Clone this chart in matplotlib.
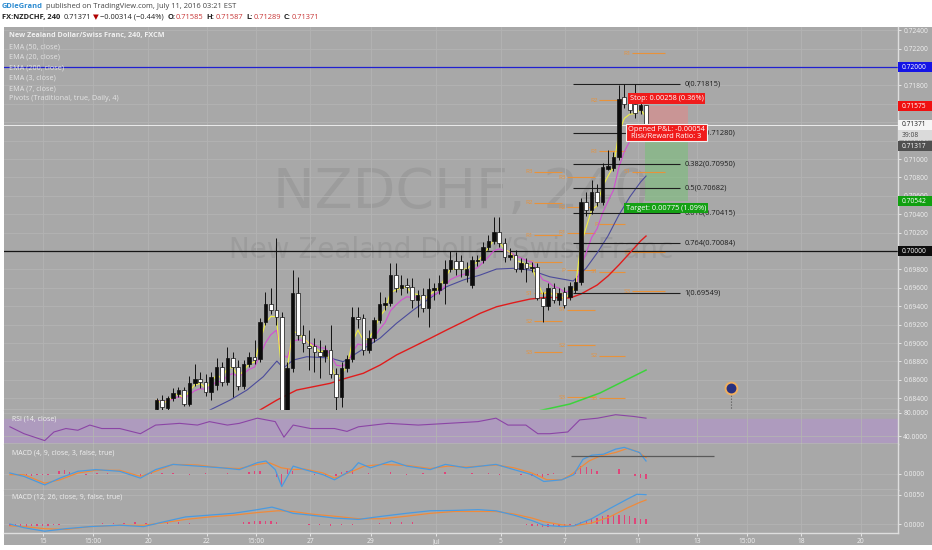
import numpy as np
import pandas as pd
import matplotlib
matplotlib.use("Agg")
import matplotlib.pyplot as plt
from matplotlib import transforms
from matplotlib.patches import Rectangle

W, H = 932, 550
BG = '#a8a8a8'
GRID = '#b3b3b3'
SEP = '#dedede'
LABEL = '#f0f0f0'
plt.rcParams['font.family'] = ['Open Sans', 'DejaVu Sans']

# ---------------- data ----------------
# 4h candles, bar index 27..117 (older bars lie below the visible range)
first_bar = 27
opens = [0.68283, 0.68380, 0.68299, 0.68402, 0.68446, 0.68489, 0.68337, 0.68565, 0.68609, 0.68576,
         0.68467, 0.68543, 0.68739, 0.68576, 0.68837, 0.68739, 0.68532, 0.68772, 0.68848, 0.68826,
         0.69228, 0.69424, 0.69359, 0.69283, 0.68109, 0.68728, 0.69543, 0.69087, 0.68967, 0.68967,
         0.68902, 0.68859, 0.68924, 0.68663, 0.68413, 0.68728, 0.68826, 0.69283, 0.69272, 0.68924,
         0.69054, 0.69250, 0.69418, 0.69435, 0.69739, 0.69598, 0.69630, 0.69609, 0.69467, 0.69522,
         0.69380, 0.69576, 0.69576, 0.69652, 0.69804, 0.69891, 0.69891, 0.69739, 0.69630, 0.69891,
         0.69902, 0.70043, 0.70109, 0.70207, 0.70087, 0.69935, 0.69956, 0.69804, 0.69869, 0.69815,
         0.69826, 0.69489, 0.69402, 0.69598, 0.69467, 0.69554, 0.69500, 0.69576, 0.69663, 0.70533,
         0.70446, 0.70641, 0.70533, 0.70891, 0.70902, 0.71022, 0.71674, 0.71641, 0.71598, 0.71533,
         0.71585]
highs = [0.68402, 0.68435, 0.68424, 0.68511, 0.68522, 0.68522, 0.68641, 0.68772, 0.68685, 0.68663,
         0.68685, 0.68837, 0.68793, 0.68956, 0.68902, 0.68815, 0.68815, 0.68902, 0.69033, 0.69272,
         0.69554, 0.69598, 0.70141, 0.69337, 0.68793, 0.69793, 0.69717, 0.69196, 0.69141, 0.69054,
         0.69033, 0.68978, 0.69196, 0.68728, 0.68793, 0.68869, 0.69391, 0.69391, 0.69315, 0.69141,
         0.69283, 0.69554, 0.69500, 0.69869, 0.69869, 0.69739, 0.69706, 0.69706, 0.69576, 0.69598,
         0.69706, 0.69652, 0.69739, 0.69902, 0.70000, 0.69989, 0.69956, 0.69880, 0.69946, 0.69956,
         0.70098, 0.70174, 0.70370, 0.70370, 0.70141, 0.70033, 0.70011, 0.69924, 0.69924, 0.69880,
         0.69869, 0.69554, 0.69652, 0.69652, 0.69598, 0.69609, 0.69663, 0.69706, 0.70576, 0.70641,
         0.70772, 0.70728, 0.70957, 0.71098, 0.71076, 0.71804, 0.71815, 0.71696, 0.71815, 0.71641,
         0.71587]
lows = [0.68261, 0.68272, 0.68272, 0.68369, 0.68413, 0.68315, 0.68315, 0.68532, 0.68511, 0.68424,
        0.68380, 0.68489, 0.68532, 0.68543, 0.68413, 0.68489, 0.68500, 0.68739, 0.68772, 0.68793,
        0.69196, 0.69315, 0.69196, 0.67946, 0.67946, 0.68685, 0.69033, 0.68902, 0.68706, 0.68685,
        0.68619, 0.68793, 0.68619, 0.68272, 0.68304, 0.68685, 0.68793, 0.69163, 0.68869, 0.68891,
        0.69011, 0.69217, 0.69359, 0.69402, 0.69554, 0.69522, 0.69543, 0.69380, 0.69283, 0.69337,
        0.69174, 0.69467, 0.69533, 0.69424, 0.69772, 0.69739, 0.69717, 0.69663, 0.69598, 0.69837,
        0.69869, 0.70011, 0.70076, 0.70043, 0.69880, 0.69902, 0.69772, 0.69772, 0.69663, 0.69772,
        0.69467, 0.69228, 0.69359, 0.69435, 0.69413, 0.69380, 0.69467, 0.69543, 0.69630, 0.70380,
        0.70402, 0.70489, 0.70500, 0.70880, 0.70870, 0.70989, 0.71554, 0.71500, 0.71446, 0.71489,
        0.71289]
closes = [0.68380, 0.68304, 0.68402, 0.68456, 0.68489, 0.68337, 0.68565, 0.68609, 0.68576, 0.68467,
          0.68630, 0.68739, 0.68576, 0.68837, 0.68739, 0.68532, 0.68772, 0.68848, 0.68815, 0.69228,
          0.69424, 0.69359, 0.69283, 0.68109, 0.68728, 0.69543, 0.69087, 0.69000, 0.68946, 0.68902,
          0.68859, 0.68924, 0.68663, 0.68413, 0.68728, 0.68826, 0.69283, 0.69266, 0.68924, 0.69054,
          0.69250, 0.69424, 0.69440, 0.69739, 0.69598, 0.69630, 0.69609, 0.69467, 0.69522, 0.69380,
          0.69587, 0.69598, 0.69652, 0.69804, 0.69902, 0.69804, 0.69804, 0.69804, 0.69902, 0.69902,
          0.70043, 0.70109, 0.70207, 0.70087, 0.69935, 0.69956, 0.69804, 0.69869, 0.69815, 0.69826,
          0.69489, 0.69402, 0.69598, 0.69467, 0.69543, 0.69413, 0.69620, 0.69663, 0.70533, 0.70446,
          0.70641, 0.70533, 0.70913, 0.70924, 0.71022, 0.71652, 0.71598, 0.71533, 0.71500, 0.71587,
          0.71371]

# slower EMAs (bar index, price)
ema20_x = [33.0, 36.8, 40.5, 43.6, 46.6, 49.1, 50.3, 52.1, 54.6, 58.9, 61.3, 63.8, 68.1, 71.1, 74.2, 77.3,
           80.3, 83.4, 86.5, 89.5, 92.6, 95.7, 99.3, 103.6, 106, 108, 110, 112, 114, 116, 117]
ema20_y = [0.68150, 0.68272, 0.68380, 0.68489, 0.68634, 0.68804, 0.68728, 0.68815, 0.68851, 0.68837, 0.68797,
           0.68891, 0.69054, 0.69214, 0.69359, 0.69489, 0.69612, 0.69685, 0.69739, 0.69804, 0.69812, 0.69793,
           0.69720, 0.69674, 0.69815, 0.69978, 0.70163, 0.70391, 0.70587, 0.70750, 0.70815]
ema50_x = [43.0, 46, 49.1, 52.75, 55.8, 58.9, 61.3, 65, 68.1, 71.1, 74.2, 77.3, 80.3, 83.4, 86.5, 89.5,
           92.6, 95.7, 98.7, 103, 105, 108, 110, 112, 114, 116, 117]
ema50_y = [0.68150, 0.68272, 0.68380, 0.68489, 0.68525, 0.68562, 0.68609, 0.68671, 0.68761, 0.68870, 0.68960,
           0.69051, 0.69141, 0.69231, 0.69323, 0.69394, 0.69438, 0.69478, 0.69497, 0.69489, 0.69532, 0.69630,
           0.69728, 0.69848, 0.69978, 0.70109, 0.70163]
ema200_x = [95.0, 97.1, 103, 108.5, 112.2, 117]
ema200_y = [0.68200, 0.68261, 0.68337, 0.68456, 0.68565, 0.68706]

# daily pivots (R3, R2, R1, P, S1, S2, S3) for the last four sessions
pivot_names = ['R3', 'R2', 'R1', 'P', 'S1', 'S2', 'S3']
pivot_start = [96, 102, 108, 114]
pivot_len = [5.2, 5.2, 4.8, 6.1]
piv_jul6 = [0.70859, 0.70522, 0.70174, 0.69880, 0.69543, 0.69239, 0.68902]
piv_jul7 = [0.70804, 0.70478, 0.70196, 0.69793, 0.69359, 0.68978, 0.68413]
piv_jul8 = [0.72700, 0.71641, 0.71087, 0.70293, 0.69772, 0.68859, 0.68402]
piv_jul11 = [0.73400, 0.72700, 0.72152, 0.71304, 0.70859, 0.69989, 0.69565]

# fibonacci retracement
fib_levels = [0, 0.236, 0.382, 0.5, 0.618, 0.764, 1]
fib_prices = [0.71815, 0.71280, 0.70950, 0.70682, 0.70415, 0.70084, 0.69549]
fib_span = [103.6, 123.2]

# short position tool
entry_price, stop_price, target_price = 0.71317, 0.71575, 0.70542
pos_span = [116.8, 124.7]

# RSI (14)
rsi_x = [0, 2.6, 6.4, 8.1, 10.3, 12.5, 14.7, 16.9, 20.2, 24, 26.8, 31.2, 34.5, 36.7, 40, 42.2, 45.5, 48.8,
         50.4, 52.1, 55.3, 59.7, 62, 64.1, 69.6, 75.1, 80.6, 86.1, 89.4, 91.6, 94.9, 97.1, 99.3, 102.6,
         104.8, 108.1, 111.4, 114.7, 117]
rsi_v = [56, 44, 32, 47, 53, 50, 59, 53, 53, 44, 59, 62, 59, 65, 59, 62, 71, 65, 38, 59, 53, 53, 48, 56,
         62, 59, 62, 65, 71, 59, 59, 44, 44, 47, 68, 71, 77, 74, 71]

# MACD (4, 9, 3)
m1_x = [0, 2.6, 6.4, 9.2, 12.5, 15.8, 20.2, 24, 26.8, 30, 34.5, 38.9, 42.2, 45.5, 47.1, 48.8, 50, 52.1,
        54.2, 57.6, 59.7, 63, 64.1, 66.3, 70.2, 73, 77.3, 80.1, 83.9, 89.4, 92.7, 96, 98.2, 101.5, 103.7,
        105.4, 107, 109.2, 111.4, 113, 115.8, 117]
m1_v = [0.0001, -0.00024, -0.00109, -0.00041, 0.00027, 0.00044, 0.00027, -0.00041, 0.00044, 0.00096,
        0.00079, 0.00062, 0.00044, 0.00113, 0.0013, 0.00044, -0.00126, 0.00079, 0.00044, -0.00007,
        -0.00058, 0.00044, 0.00113, 0.00062, 0.0013, 0.00079, 0.00044, 0.00096, 0.00062, 0.00096,
        0.00044, -0.00007, -0.00075, -0.00058, -0.00007, 0.00147, 0.00188, 0.00198, 0.00249, 0.00266,
        0.00215, 0.0013]
s1_x = [0, 2.6, 6.4, 9.2, 12.5, 15.8, 20.2, 24, 26.8, 30, 34.5, 38.9, 42.2, 45.5, 47.7, 49.9, 52.1, 54.2,
        57.6, 59.7, 63, 65.2, 68.5, 73, 77.3, 80.6, 83.9, 89.4, 92.7, 96, 98.8, 101.5, 103.2, 106.5,
        108.6, 111.4, 113.6, 115.5, 117]
s1_v = [-0.00007, -0.00007, -0.00092, -0.00058, 0.0001, 0.00037, 0.00037, -0.00024, 0.00027, 0.00096,
        0.0009, 0.00062, 0.00055, 0.00096, 0.00113, 0.00062, 0.00044, 0.0005, 0.0001, -0.00041, 0.00027,
        0.00079, 0.00096, 0.00086, 0.00055, 0.00079, 0.00069, 0.0009, 0.00062, 0.0001, -0.00058,
        -0.00058, -0.00007, 0.0013, 0.00181, 0.00215, 0.00256, 0.00222, 0.00164]
hist1_x = [1, 2, 3, 4, 5, 6, 7, 9, 10, 11, 14, 16, 18, 22, 24, 26, 28, 30, 33, 36, 40, 44, 45, 46, 49, 50,
           51, 52, 56, 58, 60, 61, 62, 63, 66, 70, 73, 76, 80, 85, 88, 90, 94, 96, 97, 98, 99, 100, 104,
           105, 106, 107, 108, 112, 115, 116, 117]
hist1_v = [-0.0001, -0.0002, -0.0001, -0.0002, -0.0001, -0.0001, -0.0001, 0.0003, 0.0004, 0.0002,
           -0.0001, 0.0001, 0.0001, -0.0001, -0.0002, 0.0002, 0.0001, 0.0001, -0.0001, 0.0001, 0.0001,
           0.0002, 0.0003, 0.0003, -0.0003, -0.0012, 0.0005, 0.0003, -0.0001, -0.0002, -0.0002, 0.0002,
           0.0003, 0.0004, 0.0001, 0.0002, -0.0001, 0.0001, 0.0002, 0.0001, 0.0001, -0.0001, -0.0001,
           -0.0002, -0.0002, -0.0003, -0.0001, 0.0001, 0.0002, 0.0008, 0.0007, 0.0005, 0.0003, 0.0005,
           -0.0002, -0.0004, -0.0005]
macd1_hline = [0.0018, 103.2, 129.5]

# MACD (12, 26, 9)
m2_x = [0, 2.6, 6.4, 10.3, 14.7, 20.2, 24.6, 27.9, 32.3, 36.7, 41.1, 45.5, 48.2, 49.9, 52.1, 55.3, 59.7,
        64.1, 68.5, 72.9, 77.3, 81.7, 86.1, 89.4, 92.7, 96, 98.2, 101.5, 103.7, 107, 110.3, 113.6, 115.3, 117]
m2_v = [0, -0.00064, -0.00124, -0.00081, -0.00045, -0.00021, -0.00045, 0.00029, 0.00122, 0.00153, 0.00184,
        0.00247, 0.00291, 0.00247, 0.00184, 0.00153, 0.00103, 0.00079, 0.00134, 0.00184, 0.00228, 0.00234,
        0.00247, 0.00228, 0.00153, 0.0006, -0.00021, -0.00045, -0.00031, 0.00091, 0.00265, 0.00431,
        0.00512, 0.00505]
s2_x = [0, 2.6, 6.4, 10.3, 14.7, 20.2, 24.6, 27.9, 32.3, 36.7, 41.1, 45.5, 49.3, 52.1, 55.3, 59.7, 64.1,
        68.5, 72.9, 77.3, 81.7, 86.1, 89.4, 92.7, 96, 98.2, 101.5, 103.7, 107, 110.3, 113.6, 115.8, 117]
s2_v = [-0.00031, -0.00045, -0.00081, -0.00093, -0.00045, -0.00021, -0.00021, 0.00017, 0.00079, 0.00122,
        0.00153, 0.00197, 0.00228, 0.00216, 0.00172, 0.00134, 0.00091, 0.00091, 0.00134, 0.00184, 0.00216,
        0.00216, 0.00216, 0.00172, 0.00103, 0.00041, -0.00014, -0.00031, 0.00017, 0.00122, 0.00278,
        0.00371, 0.00414]
hist2_x = [0, 1, 2, 3, 4, 5, 6, 7, 8, 9, 17, 19, 21, 23, 25, 27, 29, 31, 33, 43, 44, 45, 46, 47, 48, 49,
           55, 57, 59, 61, 63, 68, 70, 72, 74, 95, 96, 97, 98, 99, 100, 101, 102, 103, 104,
           105, 106, 107, 108, 109, 110, 111, 112, 113, 114, 115, 116, 117]
hist2_v = [-0.0003, -0.0004, -0.0004, -0.0005, -0.0004, -0.0004, -0.0003, -0.0003, -0.0002, -0.0002,
           0.0001, 0.0002, 0.0002, 0.0003, 0.0002, 0.0002, 0.0003, 0.0003, 0.0002,
           0.0003, 0.0004, 0.0005, 0.0006, 0.0006, 0.0005, 0.0004,
           -0.0002, -0.0002, -0.0003, -0.0002, -0.0001, 0.0002, 0.0003, 0.0004, 0.0003,
           -0.0002, -0.0003, -0.0004, -0.0005, -0.0005, -0.0004, -0.0004, -0.0003, -0.0002, -0.0001,
           0.0003, 0.0006, 0.0009, 0.0011, 0.0013, 0.0015, 0.0016, 0.0016, 0.0015, 0.0013, 0.0011, 0.0009, 0.0008]

# time axis
date_ticks = [6.1, 15.3, 25.4, 36.25, 45.3, 55.2, 66.4, 78.4, 90.3, 102.1, 115.5, 126.4, 135.6, 145.5, 156.5]
date_labels = ['15', '15:00', '20', '22', '15:00', '27', '29', 'Jul', '5', '7', '11', '13', '15:00', '18', '20']
event_bar, event_price = 132.6, 0.68511

# ---------------- layout helpers ----------------
BAR_PX = 5.437
def bar_at(px):
    return first_bar + (px - 156.7) / BAR_PX

x_lim = (bar_at(4), bar_at(898))
y_lim = (0.68272, 0.72435)
fig = plt.figure(figsize=(W / 100, H / 100), dpi=100, facecolor='white')
fig.add_artist(Rectangle((4 / W, 1 - 545 / H), 928 / W, 518 / H, transform=fig.transFigure,
                         fc=BG, ec='none', zorder=-1))


def panel(y0, y1):
    ax = fig.add_axes([4 / W, 1 - y1 / H, 894 / W, (y1 - y0) / H])
    ax.set_facecolor(BG)
    ax.set_xlim(*x_lim)
    for s in ['top', 'left']:
        ax.spines[s].set_visible(False)
    for s in ['right', 'bottom']:
        ax.spines[s].set_color(SEP)
        ax.spines[s].set_linewidth(1.0)
    ax.yaxis.tick_right()
    ax.tick_params(axis='y', colors=LABEL, labelsize=4.8, length=2.5, width=0.6, pad=1.2)
    ax.set_xticks(date_ticks)
    ax.tick_params(axis='x', length=0, labelbottom=False)
    ax.grid(True, color=GRID, lw=0.6)
    ax.set_axisbelow(True)
    return ax


def side_box(ax, y, text, fc, tc, h):
    tr = transforms.blended_transform_factory(ax.transAxes, ax.transData)
    ax.add_patch(Rectangle((1.0, y - h / 2), 34 / 894, h, transform=tr, fc=fc, ec='none',
                           clip_on=False, zorder=20))
    ax.text(1.0 + 4 / 894, y, text, transform=tr, color=tc, fontsize=4.8, va='center', ha='left',
            clip_on=False, zorder=21)


# ---------------- main price panel ----------------
ax = panel(27, 410)
ax.set_ylim(*y_lim)
pticks = np.arange(0.684, 0.7241, 0.002)
ax.set_yticks(pticks)
ax.set_yticklabels([f'{t:.5f}' for t in pticks])

ax.text(0.511, 0.567, 'NZDCHF, 240', transform=ax.transAxes, fontsize=40, color='#9c9c9c',
        ha='center', va='center', family='DejaVu Sans', zorder=0.5)
ax.text(0.50, 0.418, 'New Zealand Dollar/Swiss Franc', transform=ax.transAxes, fontsize=20,
        color='#9c9c9c', ha='center', va='center', family='DejaVu Sans', zorder=0.5)

legend_lines = ['EMA (50, close)', 'EMA (20, close)', 'EMA (200, close)', 'EMA (3, close)',
                'EMA (7, close)', 'Pivots (Traditional, true, Daily, 4)']
ax.text(5 / 894, (410 - 36) / 383, 'New Zealand Dollar/Swiss Franc, 240, FXCM', transform=ax.transAxes,
        fontsize=5.2, color=LABEL, fontweight='bold', va='center')
for k, s in enumerate(legend_lines):
    ax.text(5 / 894, (410 - 47 - k * 10.4) / 383, s, transform=ax.transAxes, fontsize=5.2,
            color='#e4e4e4', va='center')

# full-width horizontal levels
ax.axhline(0.72, color='#2020d0', lw=0.9, zorder=2)
ax.axhline(0.70, color='#151515', lw=0.9, zorder=2)
ax.axhline(closes[-1], color='#ececec', lw=0.7, zorder=1.6)

# pivots (only levels inside the price range get a label)
for d, ln, lv in zip(pivot_start, pivot_len, [piv_jul6, piv_jul7, piv_jul8, piv_jul11]):
    for name, p in zip(pivot_names, lv):
        if not (y_lim[0] + 0.0002 < p < y_lim[1] - 0.0002):
            continue
        ax.hlines(p, d + 0.4, d + 0.4 + ln, color='#e8923a', lw=0.8, zorder=1.8)
        ax.text(d + 0.2, p, name, color='#e8923a', fontsize=4.6, ha='right', va='center', zorder=1.8)

# position tool zones
ax.add_patch(Rectangle((pos_span[0], entry_price), pos_span[1] - pos_span[0], stop_price - entry_price,
                       fc='#dc8c8c', ec='none', alpha=0.65, zorder=1.5))
ax.add_patch(Rectangle((pos_span[0], target_price), pos_span[1] - pos_span[0], entry_price - target_price,
                       fc='#78c078', ec='none', alpha=0.55, zorder=1.5))

# EMAs
bars = np.arange(first_bar, first_bar + len(closes))
cs = pd.Series(closes)
ema3 = cs.ewm(span=3, adjust=False).mean()
ema7 = cs.ewm(span=7, adjust=False).mean()
ax.plot(ema200_x, ema200_y, color='#3cd23c', lw=1.1, zorder=2)
ax.plot(ema50_x, ema50_y, color='#e01c1c', lw=1.0, zorder=2)
ax.plot(ema20_x, ema20_y, color='#4b4b9b', lw=0.8, zorder=2)
ax.plot(bars, ema7, color='#d24fd2', lw=0.8, zorder=2)
ax.plot(bars, ema3, color='#f0f040', lw=0.8, zorder=2)

# candles (black body = up, white body = down)
o, h_, l_, c = map(np.array, (opens, highs, lows, closes))
up = c >= o
ax.vlines(bars, l_, h_, color='#111111', lw=0.7, zorder=3)
body_lo = np.minimum(o, c)
body_h = np.maximum(np.abs(c - o), 0.00003)
ax.bar(bars, body_h, bottom=body_lo, width=0.66, color=np.where(up, '#0c0c0c', '#ffffff'),
       edgecolor='#111111', linewidth=0.5, zorder=3)

# fibonacci
for lv, p in zip(fib_levels, fib_prices):
    ax.hlines(p, fib_span[0], fib_span[1], color='#1e1e1e', lw=0.8, zorder=2.6)
    ax.text(fib_span[1] + 0.9, p, f'{lv:g}({p:.5f})', color='#1e1e1e', fontsize=5.4, va='center',
            ha='left', zorder=2.6)

# position labels
mid = (pos_span[0] + pos_span[1]) / 2
ax.annotate(f'Stop: {stop_price - entry_price:.5f} (0.36%)', (mid, stop_price), xytext=(0, 5.5),
            textcoords='offset points', ha='center', va='center', fontsize=5.3, color='white', zorder=8,
            bbox=dict(boxstyle='square,pad=0.25', fc='#f01c1c', ec='none'))
ax.annotate('Opened P&L: -0.00054\nRisk/Reward Ratio: 3', (mid, entry_price), xytext=(0, -2),
            textcoords='offset points', ha='center', va='center', fontsize=5.3, color='white',
            linespacing=0.95, zorder=8,
            bbox=dict(boxstyle='square,pad=0.25', fc='#f01c1c', ec='#f4f4f4', lw=0.8))
ax.annotate(f'Target: {entry_price - target_price:.5f} (1.09%)', (mid, target_price), xytext=(0, -5),
            textcoords='offset points', ha='center', va='center', fontsize=5.3, color='white', zorder=8,
            bbox=dict(boxstyle='square,pad=0.25', fc='#14a014', ec='none'))

# economic event marker
ax.vlines(event_bar, 0.6826, event_price - 0.0006, color='#555555', lw=0.8, linestyles=':', zorder=3)
ax.plot([event_bar], [event_price], marker='o', ms=8.5, mfc='#283080', mec='#f0b060', mew=1.4, zorder=4)

# right-side price boxes
bh = 10.5 / 9200
side_box(ax, 0.72000, '0.72000', '#1414e6', 'white', bh)
side_box(ax, stop_price, f'{stop_price:.5f}', '#f01010', 'white', bh)
side_box(ax, closes[-1], f'{closes[-1]:.5f}', '#f6f6f6', '#222222', bh)
side_box(ax, 0.71261, '39:08', '#dadada', '#444444', bh)
side_box(ax, 0.71141, f'{entry_price:.5f}', '#505050', 'white', bh)
side_box(ax, target_price, f'{target_price:.5f}', '#10a010', 'white', bh)
side_box(ax, 0.70000, '0.70000', '#0e0e0e', 'white', bh)

# ---------------- RSI ----------------
ar = panel(410, 444)
ar.set_ylim(26.1, 85.2)
ar.set_yticks([40, 80])
ar.set_yticklabels(['40.0000', '80.0000'])
ar.axhspan(30, 70, color='#ae9bbe', zorder=0.5)
ar.plot(rsi_x, rsi_v, color='#8b45a5', lw=0.8, zorder=2)
ar.text(8 / 894, 0.74, 'RSI (14, close)', transform=ar.transAxes, fontsize=5, color=LABEL, va='center')

# ---------------- MACD (4, 9) ----------------
a1 = panel(444, 490)
a1.set_ylim(-0.0016, 0.0030)
a1.set_yticks([0.0])
a1.set_yticklabels(['0.0000'])
a1.bar(hist1_x, hist1_v, width=0.25, color='#e0457a', zorder=2)
a1.plot(s1_x, s1_v, color='#f08a3a', lw=0.9, zorder=3)
a1.plot(m1_x, m1_v, color='#4a9ae0', lw=0.9, zorder=3)
a1.hlines(macd1_hline[0], macd1_hline[1], macd1_hline[2], color='#5a5a5a', lw=0.9, zorder=3)
a1.text(8 / 894, 0.80, 'MACD (4, 9, close, 3, false, true)', transform=a1.transAxes, fontsize=5,
        color=LABEL, va='center')

# ---------------- MACD (12, 26) ----------------
a2 = panel(490, 533)
a2.set_ylim(-0.00155, 0.00586)
a2.set_yticks([0.0, 0.005])
a2.set_yticklabels(['0.0000', '0.0050'])
a2.bar(hist2_x, hist2_v, width=0.25, color='#e0457a', zorder=2)
a2.plot(s2_x, s2_v, color='#f08a3a', lw=0.9, zorder=3)
a2.plot(m2_x, m2_v, color='#4a9ae0', lw=0.9, zorder=3)
a2.text(8 / 894, 0.84, 'MACD (12, 26, close, 9, false, true)', transform=a2.transAxes, fontsize=5,
        color=LABEL, va='center')
a2.set_xticklabels(date_labels)
a2.tick_params(axis='x', labelbottom=True, colors=LABEL, labelsize=4.8, length=2, width=0.6, pad=1.5)

# ---------------- header (pieces laid out one after another) ----------------
renderer = fig.canvas.get_renderer()

def text_run(x, y, pieces, size):
    for s, color, weight, gap in pieces:
        t = fig.text(x / W, 1 - y / H, s, color=color, fontsize=size, fontweight=weight,
                     va='center', ha='left')
        x += t.get_window_extent(renderer).width + gap

dark, red = '#222222', '#c83737'
text_run(2, 7, [('GDleGrand', '#2a8ad0', 'bold', 2.5),
                ('published on TradingView.com, July 11, 2016 03:21 EST', '#444444', 'normal', 0)], 5.4)
line2 = [('FX:NZDCHF, 240', dark, 'bold', 3), ('0.71371', dark, 'normal', 2), ('▼', '#b00000', 'normal', 2),
         ('\u22120.00314 (\u22120.44%)', dark, 'normal', 3)]
for lab, val in [('O:', '0.71585'), ('H:', '0.71587'), ('L:', '0.71289'), ('C:', '0.71371')]:
    line2 += [(lab, dark, 'bold', 0.8), (val, red, 'normal', 3)]
text_run(2, 17.5, line2, 5.4)

fig.savefig('out.png', dpi=100, facecolor='white')
